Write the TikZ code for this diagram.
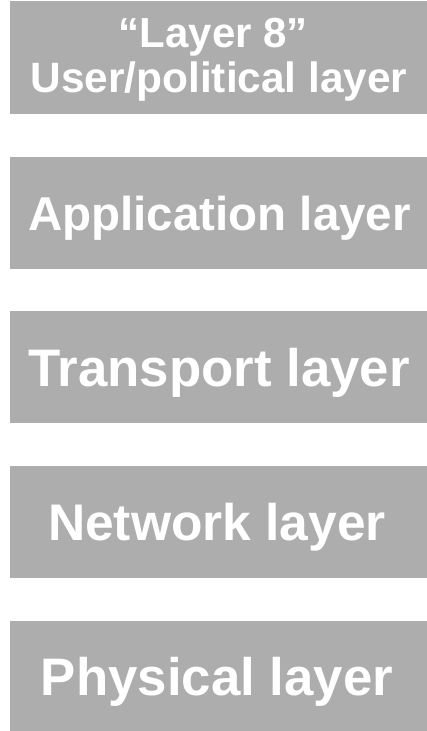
\documentclass[tikz,border=0pt]{standalone}
\usepackage{fontspec}
\setmainfont{Liberation Sans}
\definecolor{boxgray}{HTML}{ADADAD}
\tikzset{
  layerbox/.style={fill=boxgray, draw=none, inner sep=0pt, minimum width=417pt, anchor=north west},
  layertext/.style={text=white, inner sep=0pt, anchor=base, font=\bfseries}
}
\newcommand{\lt}[2]{\fontsize{#1}{#1}\selectfont #2}
\begin{document}
\begin{tikzpicture}[x=1pt,y=-1pt]
\useasboundingbox (0,0) rectangle (427,731);
\node[layerbox, minimum height=113pt] (b1) at (10,1) {};
\node[layerbox, minimum height=112pt] (b2) at (10,157) {};
\node[layerbox, minimum height=112pt] (b3) at (10,311) {};
\node[layerbox, minimum height=112pt] (b4) at (10,466) {};
\node[layerbox, minimum height=110pt] (b5) at (10,621) {};
\node[layertext] (t1a) at (213.5,47.5) {\lt{42}{“Layer 8”}};
\node[layertext] (t1b) at (219,92) {\lt{42.4}{User/political layer}};
\node[layertext] (t2) at (219.5,230) {\lt{47.5}{Application layer}};
\node[layertext] (t3) at (219,386) {\lt{52.8}{Transport layer}};
\node[layertext] (t4) at (217,540) {\lt{51.5}{Network layer}};
\node[layertext] (t5) at (217,695) {\lt{52.8}{Physical layer}};
\end{tikzpicture}
\end{document}
